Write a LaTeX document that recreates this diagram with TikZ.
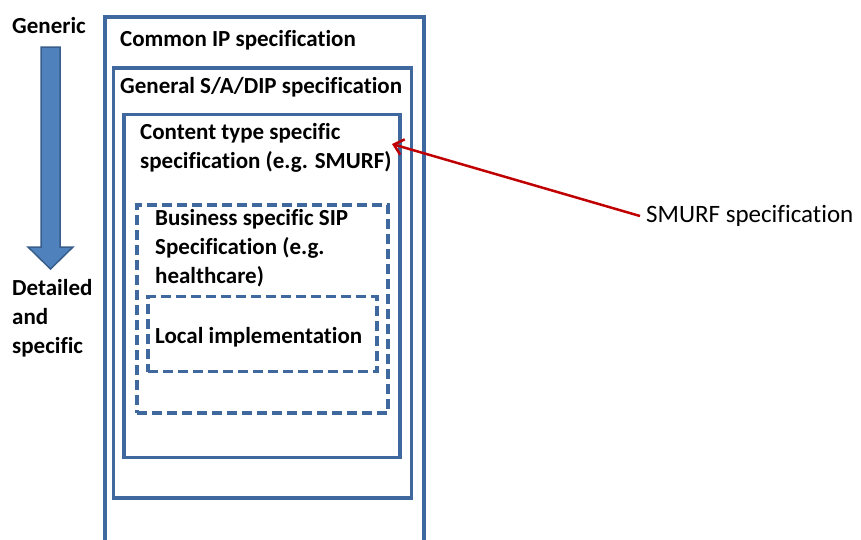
\documentclass[tikz,border=0pt]{standalone}
\usepackage{fontspec}
\setmainfont{Carlito}[Ligatures=NoCommon]
\usetikzlibrary{arrows.meta,positioning}
\definecolor{boxblue}{RGB}{62,104,158}
\definecolor{arrowfill}{RGB}{79,129,189}
\definecolor{arrowline}{RGB}{56,93,138}
\definecolor{smurfred}{RGB}{192,0,0}

\begin{document}
\begin{tikzpicture}[x=1pt,y=-1pt,
		spec box/.style={draw=boxblue,line width=3.2pt,inner sep=0pt},
		sub box/.style={spec box,dash pattern=on 10pt off 5pt},
		spec text/.style={anchor=base west,inner sep=0pt,align=left,
			font=\fontsize{23}{29}\selectfont\bfseries},
		note text/.style={anchor=west,inner sep=6pt,font=\fontsize{25}{28}\selectfont},
		smurf arrow/.style={draw=smurfred,line width=2.5pt,-{Straight Barb[length=9pt,width=16pt,line width=2.5pt]}}]

	\useasboundingbox (0,0) rectangle (861,539);

	% nested specification boxes
	\node[spec box,minimum width=319pt,minimum height=553pt] (common) at (264.5,293.5) {};
	\node[spec box,minimum width=298pt,minimum height=430pt] (general) at (262.5,283) {};
	\node[spec box,minimum width=276pt,minimum height=343pt] (content) at (262,286) {};
	\node[sub box,minimum width=251pt,minimum height=208pt] (business) at (262.5,309) {};
	\node[sub box,minimum width=229pt,minimum height=75pt] (local) at (262.5,334) {};

	% multi-line texts sit on their last baseline
	\node[spec text] (common text) at (120,46) {Common IP specification};
	\node[spec text] (general text) at (120,93) {General S/A/DIP specification};
	\node[spec text] (content text) at (140,168) {Content type specific\\specification (e.g. SMURF)};
	\node[spec text] (business text) at (155,283) {Business specific SIP\\Specification (e.g.\\healthcare)};
	\node[spec text] (local text) at (155,343) {Local implementation};

	% generic -> specific
	\node[spec text] (generic) at (12,33) {Generic};
	\node[spec text] (detailed) at (12,353) {Detailed\\and\\specific};
	\draw[fill=arrowfill,draw=arrowline,line width=1.5pt,line join=miter]
		(41,47) -- (60,47) -- (60,247) -- (73,247) -- (50.5,269) -- (28,247) -- (41,247) -- cycle;

	% SMURF
	\coordinate (smurf tip) at (392,144);
	\node[note text] (smurf) at (640,216) {SMURF specification};
	\draw[smurf arrow] (smurf.west) -- (smurf tip);
\end{tikzpicture}
\end{document}
